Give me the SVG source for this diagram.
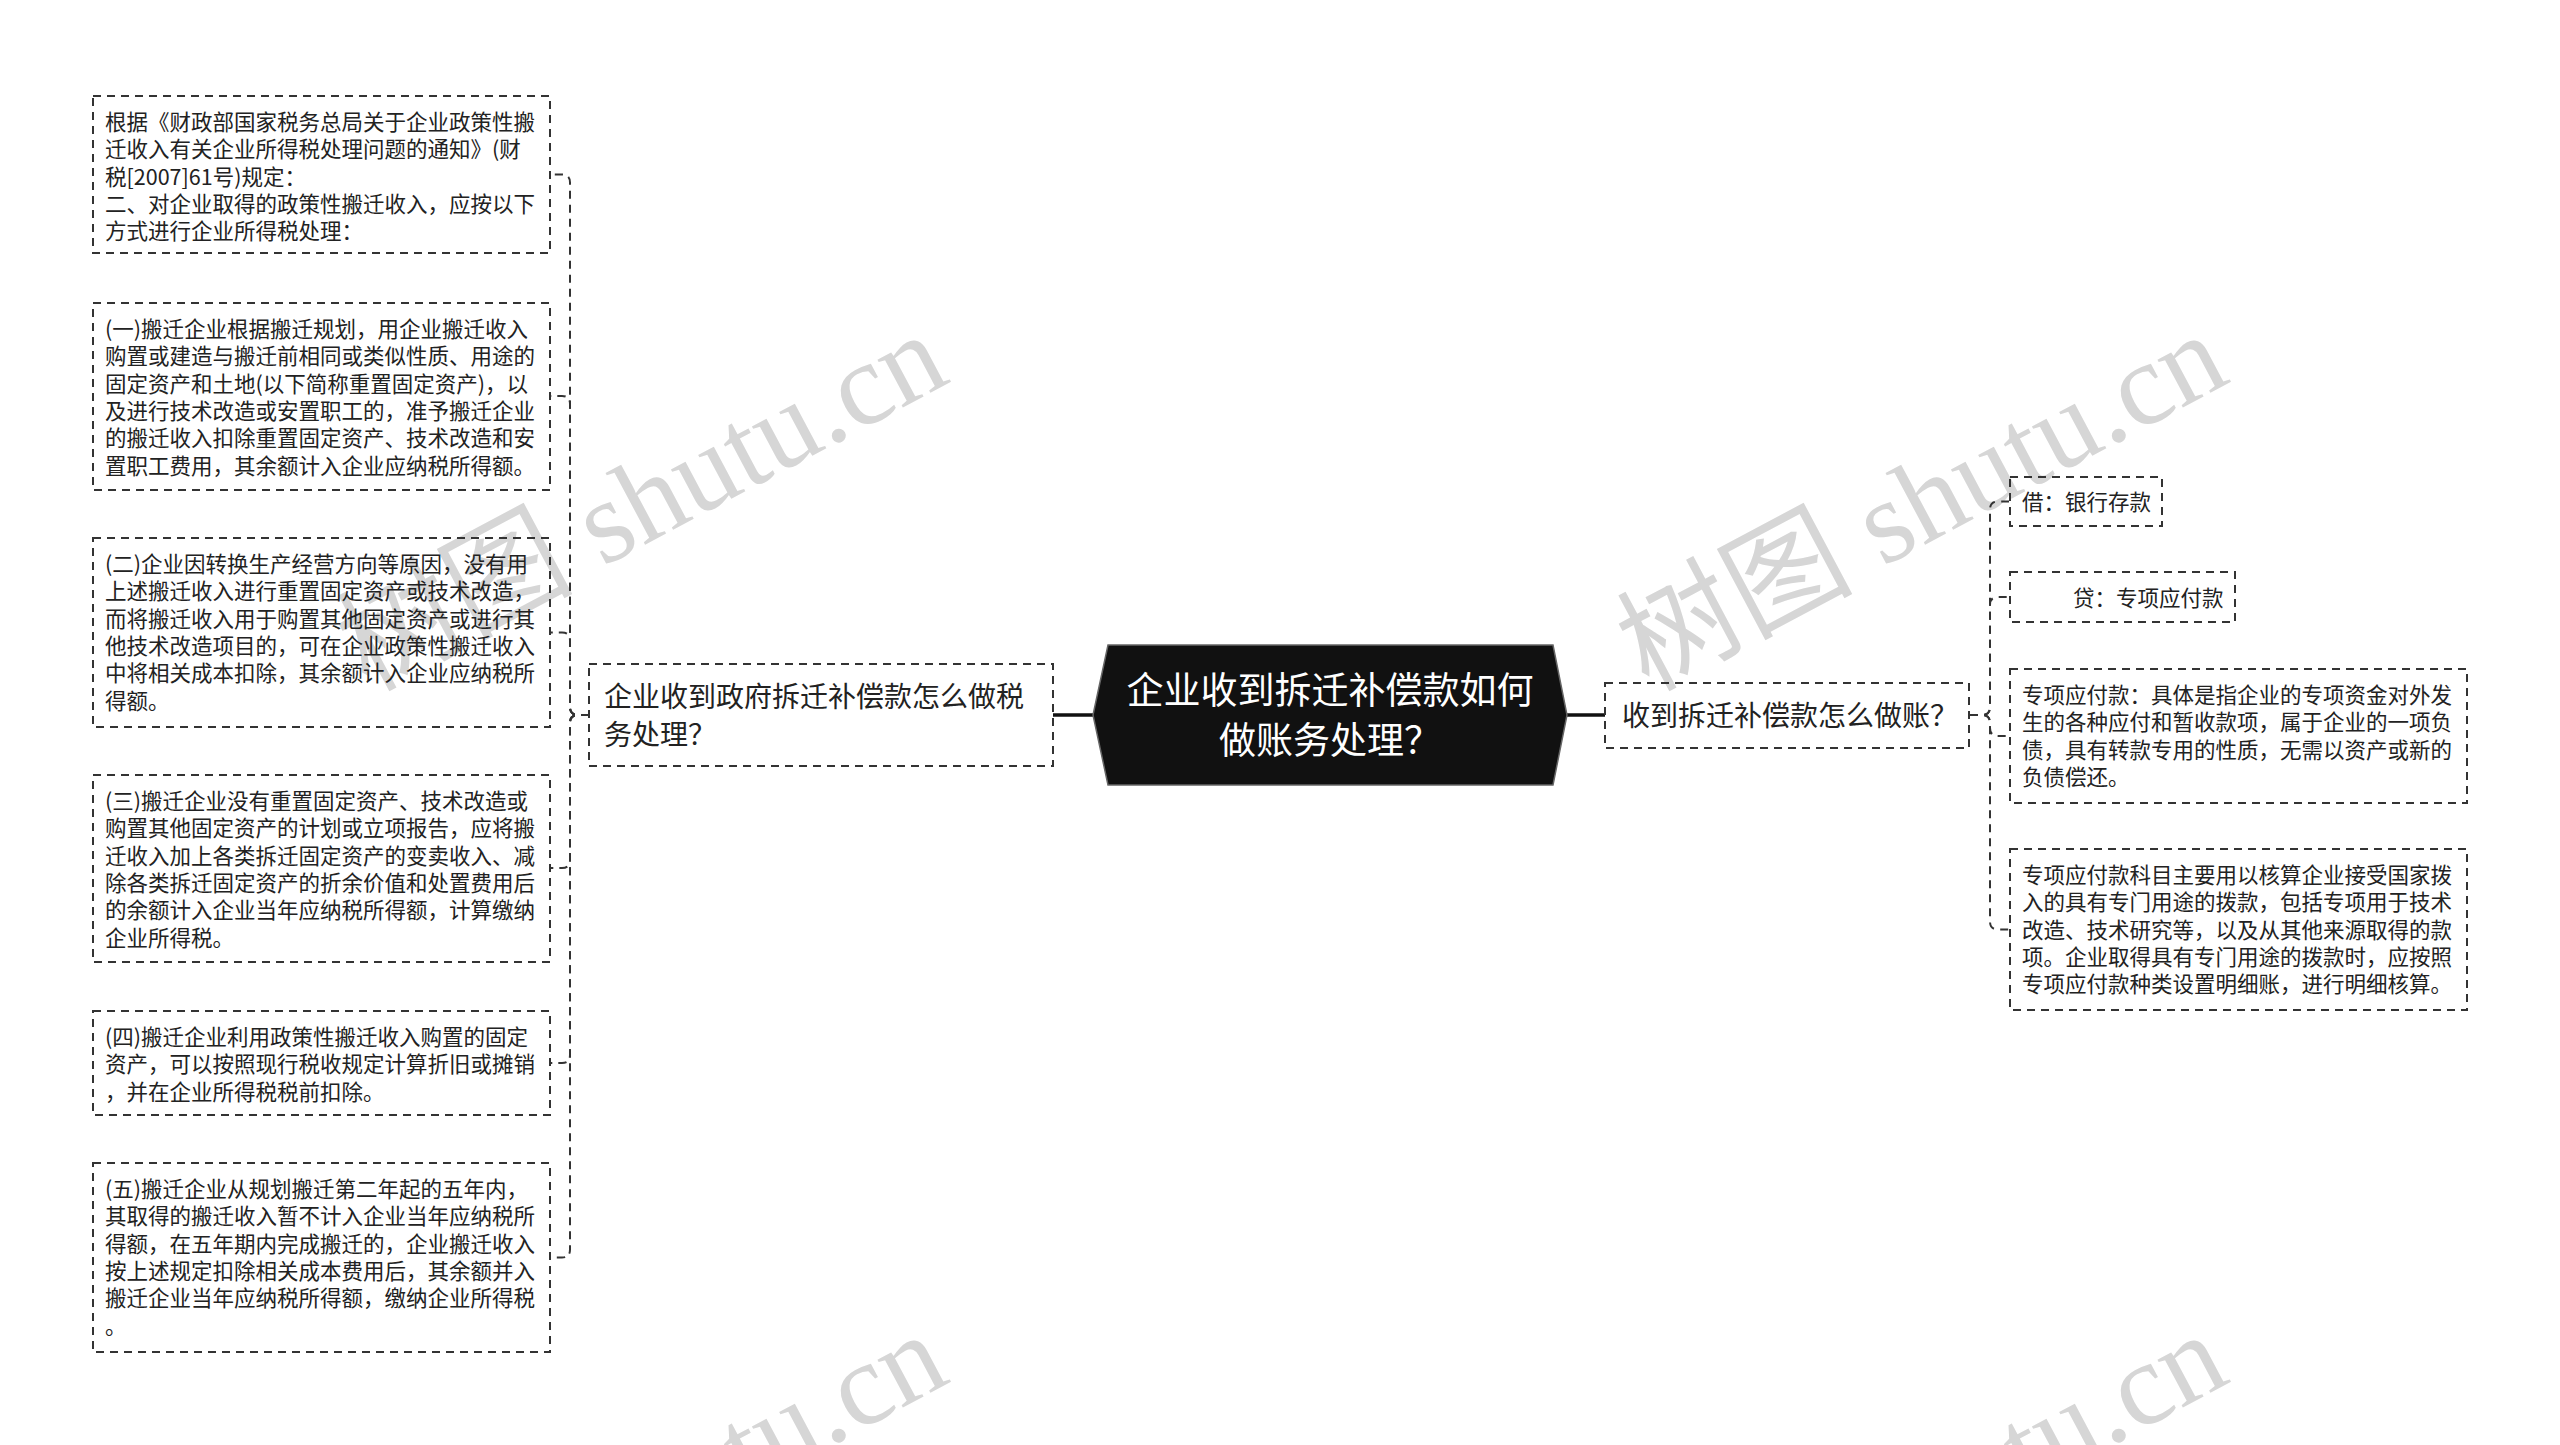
<svg xmlns="http://www.w3.org/2000/svg" width="2560" height="1445" viewBox="0 0 2560 1445">
<style>
.wm{font-family:"Liberation Serif","Noto Sans CJK SC",serif;font-size:118px;fill:#d6d6d6;}
.box{fill:none;stroke:#333;stroke-width:2;stroke-dasharray:8 6;}
.conn{fill:none;stroke:#333;stroke-width:2;stroke-dasharray:8 6;}
.solid{fill:none;stroke:#111;stroke-width:3.5;}
.t{font-family:"Noto Sans CJK SC","Noto Sans",sans-serif;font-size:21.5px;fill:#222;}
.t2{font-family:"Noto Sans CJK SC","Noto Sans",sans-serif;font-size:28px;fill:#222;}
.tc{font-family:"Noto Sans CJK SC","Noto Sans",sans-serif;font-size:37px;fill:#fff;text-anchor:middle;}
</style>
<rect x="0" y="0" width="2560" height="1445" fill="#fff"/>
<g id="watermarks">
<text class="wm" x="368" y="692" transform="rotate(-28 368 692)">树图 shutu.cn</text>
<text class="wm" x="1648" y="692" transform="rotate(-28 1648 692)">树图 shutu.cn</text>
<text class="wm" x="368" y="1692" transform="rotate(-28 368 1692)">树图 shutu.cn</text>
<text class="wm" x="1648" y="1692" transform="rotate(-28 1648 1692)">树图 shutu.cn</text>
</g>
<g id="connectors">
<path class="solid" d="M1053 715 H1094"/>
<path class="solid" d="M1566 715 H1605"/>
<path class="conn" d="M589 715 H578 Q570 715 570 707 V182.5 Q570 174.5 562 174.5 H551"/>
<path class="conn" d="M589 715 H578 Q570 715 570 707 V404 Q570 396 562 396 H551"/>
<path class="conn" d="M589 715 H578 Q570 715 570 707 V640.5 Q570 632.5 562 632.5 H551"/>
<path class="conn" d="M589 715 H578 Q570 715 570 723 V860 Q570 868 562 868 H551"/>
<path class="conn" d="M589 715 H578 Q570 715 570 723 V1055 Q570 1063 562 1063 H551"/>
<path class="conn" d="M589 715 H578 Q570 715 570 723 V1249.5 Q570 1257.5 562 1257.5 H551"/>
<path class="conn" d="M1970 715 H1982 Q1990 715 1990 707 V509.5 Q1990 501.5 1998 501.5 H2009"/>
<path class="conn" d="M1970 715 H1982 Q1990 715 1990 707 V605 Q1990 597 1998 597 H2009"/>
<path class="conn" d="M1970 715 H1982 Q1990 715 1990 723 V728 Q1990 736 1998 736 H2009"/>
<path class="conn" d="M1970 715 H1982 Q1990 715 1990 723 V921.5 Q1990 929.5 1998 929.5 H2009"/>
</g>
<g id="root">
<polygon points="1108,645 1553,645 1567,715 1553,785 1108,785 1093,715" fill="#111" stroke="#666" stroke-width="1.5"/>
<text class="tc" x="1330" y="704">企业收到拆迁补偿款如何</text>
<text class="tc" x="1330" y="754">做账务处理？</text>
</g>
<g id="left-main">
<rect class="box" x="589" y="664" width="464" height="102"/>
<text class="t2" x="604" y="707">企业收到政府拆迁补偿款怎么做税</text>
<text class="t2" x="604" y="745">务处理？</text>
</g>
<g id="right-main">
<rect class="box" x="1605" y="683" width="364" height="65"/>
<text class="t2" x="1622" y="726">收到拆迁补偿款怎么做账？</text>
</g>
<g id="left-1">
<rect class="box" x="93" y="96" width="457" height="157"/>
<text class="t" x="105" y="130">根据《财政部国家税务总局关于企业政策性搬</text>
<text class="t" x="105" y="157.3">迁收入有关企业所得税处理问题的通知》(财</text>
<text class="t" x="105" y="184.6">税[2007]61号)规定：</text>
<text class="t" x="105" y="211.9">二、对企业取得的政策性搬迁收入，应按以下</text>
<text class="t" x="105" y="239.2">方式进行企业所得税处理：</text>
</g>
<g id="left-2">
<rect class="box" x="93" y="303" width="457" height="187"/>
<text class="t" x="105" y="337">(一)搬迁企业根据搬迁规划，用企业搬迁收入</text>
<text class="t" x="105" y="364.3">购置或建造与搬迁前相同或类似性质、用途的</text>
<text class="t" x="105" y="391.6">固定资产和土地(以下简称重置固定资产)，以</text>
<text class="t" x="105" y="418.9">及进行技术改造或安置职工的，准予搬迁企业</text>
<text class="t" x="105" y="446.2">的搬迁收入扣除重置固定资产、技术改造和安</text>
<text class="t" x="105" y="473.5">置职工费用，其余额计入企业应纳税所得额。</text>
</g>
<g id="left-3">
<rect class="box" x="93" y="538" width="457" height="189"/>
<text class="t" x="105" y="572">(二)企业因转换生产经营方向等原因，没有用</text>
<text class="t" x="105" y="599.3">上述搬迁收入进行重置固定资产或技术改造，</text>
<text class="t" x="105" y="626.6">而将搬迁收入用于购置其他固定资产或进行其</text>
<text class="t" x="105" y="653.9">他技术改造项目的，可在企业政策性搬迁收入</text>
<text class="t" x="105" y="681.2">中将相关成本扣除，其余额计入企业应纳税所</text>
<text class="t" x="105" y="708.5">得额。</text>
</g>
<g id="left-4">
<rect class="box" x="93" y="775" width="457" height="187"/>
<text class="t" x="105" y="809">(三)搬迁企业没有重置固定资产、技术改造或</text>
<text class="t" x="105" y="836.3">购置其他固定资产的计划或立项报告，应将搬</text>
<text class="t" x="105" y="863.6">迁收入加上各类拆迁固定资产的变卖收入、减</text>
<text class="t" x="105" y="890.9">除各类拆迁固定资产的折余价值和处置费用后</text>
<text class="t" x="105" y="918.2">的余额计入企业当年应纳税所得额，计算缴纳</text>
<text class="t" x="105" y="945.5">企业所得税。</text>
</g>
<g id="left-5">
<rect class="box" x="93" y="1011" width="457" height="104"/>
<text class="t" x="105" y="1045">(四)搬迁企业利用政策性搬迁收入购置的固定</text>
<text class="t" x="105" y="1072.3">资产，可以按照现行税收规定计算折旧或摊销</text>
<text class="t" x="105" y="1099.6">，并在企业所得税税前扣除。</text>
</g>
<g id="left-6">
<rect class="box" x="93" y="1163" width="457" height="189"/>
<text class="t" x="105" y="1197">(五)搬迁企业从规划搬迁第二年起的五年内，</text>
<text class="t" x="105" y="1224.3">其取得的搬迁收入暂不计入企业当年应纳税所</text>
<text class="t" x="105" y="1251.6">得额，在五年期内完成搬迁的，企业搬迁收入</text>
<text class="t" x="105" y="1278.9">按上述规定扣除相关成本费用后，其余额并入</text>
<text class="t" x="105" y="1306.2">搬迁企业当年应纳税所得额，缴纳企业所得税</text>
<text class="t" x="105" y="1333.5">。</text>
</g>
<g id="right-1">
<rect class="box" x="2010" y="477" width="152" height="49"/>
<text class="t" x="2022" y="510">借：银行存款</text>
</g>
<g id="right-2">
<rect class="box" x="2010" y="572" width="225" height="50"/>
<text class="t" x="2073" y="606">贷：专项应付款</text>
</g>
<g id="right-3">
<rect class="box" x="2010" y="669" width="457" height="134"/>
<text class="t" x="2022" y="703">专项应付款：具体是指企业的专项资金对外发</text>
<text class="t" x="2022" y="730.3">生的各种应付和暂收款项，属于企业的一项负</text>
<text class="t" x="2022" y="757.6">债，具有转款专用的性质，无需以资产或新的</text>
<text class="t" x="2022" y="784.9">负债偿还。</text>
</g>
<g id="right-4">
<rect class="box" x="2010" y="849" width="457" height="161"/>
<text class="t" x="2022" y="883">专项应付款科目主要用以核算企业接受国家拨</text>
<text class="t" x="2022" y="910.3">入的具有专门用途的拨款，包括专项用于技术</text>
<text class="t" x="2022" y="937.6">改造、技术研究等，以及从其他来源取得的款</text>
<text class="t" x="2022" y="964.9">项。企业取得具有专门用途的拨款时，应按照</text>
<text class="t" x="2022" y="992.2">专项应付款种类设置明细账，进行明细核算。</text>
</g>
</svg>
